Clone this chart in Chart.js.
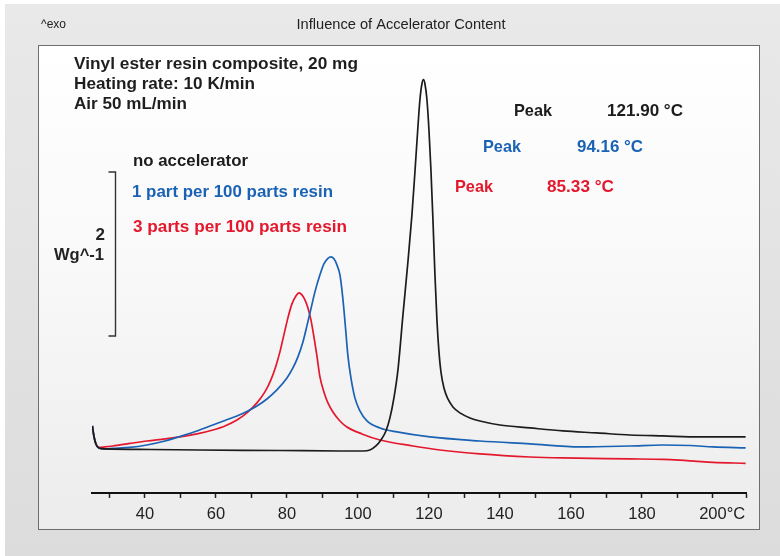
<!DOCTYPE html>
<html>
<head>
<meta charset="utf-8">
<script src="https://cdn.jsdelivr.net/npm/chart.js@4.4.1/dist/chart.umd.min.js"></script>
<style>
  html, body { margin: 0; padding: 0; background: #ffffff; }
  canvas { display: block; }
</style>
</head>
<body>
<canvas id="c" width="780" height="556"></canvas>
<script>
// ---- Data (temperature in °C, heat flow in W/g, exo up) ----
const noAccT = [25.21, 25.63, 26.20, 27.04, 28.73, 41.41, 55.49, 78.03, 94.93, 101.41, 103.38, 105.07, 106.48, 107.89, 109.01, 110.14, 111.27, 112.68, 114.08, 115.21, 116.06, 116.90, 117.46, 118.03, 118.45, 118.87, 119.44, 120.00, 120.56, 121.13, 121.69, 122.25, 122.82, 123.38, 124.23, 125.35, 126.76, 128.73, 131.55, 134.37, 140.00, 148.45, 157.75, 167.32, 176.62, 185.92, 196.34, 209.2];
const noAccW = [0.817, 0.695, 0.598, 0.549, 0.537, 0.530, 0.524, 0.518, 0.512, 0.512, 0.524, 0.573, 0.646, 0.756, 0.915, 1.159, 1.500, 2.171, 2.817, 3.390, 3.915, 4.463, 4.793, 4.988, 5.037, 4.988, 4.793, 4.427, 3.939, 3.329, 2.659, 2.110, 1.720, 1.476, 1.280, 1.146, 1.049, 0.976, 0.915, 0.878, 0.829, 0.793, 0.756, 0.732, 0.707, 0.695, 0.683, 0.683];

const onePartT = [25.21, 25.63, 26.20, 27.04, 28.73, 30.99, 35.77, 40.56, 45.63, 49.86, 54.65, 59.15, 62.54, 65.92, 68.73, 71.55, 74.37, 77.18, 80.00, 81.69, 83.10, 84.51, 85.63, 86.76, 87.89, 89.30, 90.42, 91.55, 92.39, 93.24, 94.08, 94.93, 95.49, 96.06, 96.62, 97.18, 98.03, 99.15, 100.56, 102.54, 106.20, 110.99, 120.28, 134.37, 148.45, 162.54, 176.62, 185.92, 193.52, 200.00, 209.2];
const onePartW = [0.817, 0.695, 0.598, 0.549, 0.537, 0.543, 0.555, 0.585, 0.634, 0.689, 0.756, 0.829, 0.884, 0.939, 0.994, 1.061, 1.146, 1.256, 1.402, 1.524, 1.659, 1.841, 2.037, 2.244, 2.451, 2.659, 2.793, 2.860, 2.878, 2.854, 2.780, 2.659, 2.476, 2.232, 1.951, 1.671, 1.402, 1.159, 1.000, 0.878, 0.793, 0.744, 0.683, 0.634, 0.598, 0.561, 0.573, 0.585, 0.579, 0.561, 0.549];

const threePartsT = [25.21, 25.63, 26.20, 27.04, 28.73, 30.99, 35.77, 40.56, 45.63, 49.86, 54.65, 59.15, 62.54, 65.92, 68.73, 71.55, 73.80, 75.49, 76.90, 78.03, 79.15, 80.28, 81.41, 82.54, 83.38, 84.23, 85.07, 85.92, 86.76, 87.61, 88.45, 89.30, 90.42, 91.55, 92.96, 94.93, 96.90, 101.13, 106.20, 115.49, 123.10, 134.37, 148.45, 157.75, 176.62, 185.92, 190.70, 195.49, 200.00, 209.2];
const threePartsW = [0.817, 0.695, 0.598, 0.555, 0.561, 0.573, 0.604, 0.634, 0.659, 0.683, 0.720, 0.768, 0.817, 0.890, 0.976, 1.098, 1.232, 1.378, 1.549, 1.720, 1.927, 2.134, 2.305, 2.402, 2.439, 2.415, 2.354, 2.256, 2.110, 1.902, 1.671, 1.415, 1.232, 1.098, 0.988, 0.878, 0.805, 0.720, 0.646, 0.573, 0.524, 0.476, 0.439, 0.427, 0.416, 0.410, 0.400, 0.386, 0.374, 0.362];

const seriesNames = ["no accelerator", "1 part per 100 parts resin", "3 parts per 100 parts resin"];
const peakLabels = ["121.90 °C", "94.16 °C", "85.33 °C"];
const infoLines = ["Vinyl ester resin composite, 20 mg", "Heating rate: 10 K/min", "Air 50 mL/min"];
const titleText = "Influence of Accelerator Content";
const xTickValues = [30, 40, 50, 60, 70, 80, 90, 100, 110, 120, 130, 140, 150, 160, 170, 180, 190, 200, 209.3];
const xTickLabels = ["", "40", "", "60", "", "80", "", "100", "", "120", "", "140", "", "160", "", "180", "", "    200°C", ""];

const COLORS = ["#1c1c1c", "#1a62b4", "#e4182d"];
const FONT = '"Liberation Sans", Arial, Helvetica, sans-serif';

function pts(xs, ys) { return xs.map((x, i) => ({ x: x, y: ys[i] })); }

function txt(ctx, s, x, y, color, size, bold, w, align) {
  ctx.save();
  ctx.font = (bold ? 'bold ' : '') + size + 'px ' + FONT;
  ctx.fillStyle = color;
  ctx.textBaseline = 'alphabetic';
  ctx.textAlign = 'left';
  const m = ctx.measureText(s).width;
  const sx = w ? w / m : 1;
  const ww = w || m;
  let left = x;
  if (align === 'center') left = x - ww / 2;
  else if (align === 'right') left = x - ww;
  ctx.translate(left, y);
  ctx.scale(sx, 1);
  ctx.fillText(s, 0, 0);
  ctx.restore();
}

const decor = {
  id: 'decor',
  beforeDraw(chart) {
    const ctx = chart.ctx;
    ctx.save();
    ctx.fillStyle = '#ffffff';
    ctx.fillRect(0, 0, 780, 556);
    let g = ctx.createLinearGradient(0, 4, 0, 556);
    g.addColorStop(0, '#e9e9e9');
    g.addColorStop(1, '#dcdcdc');
    ctx.fillStyle = g;
    ctx.fillRect(5, 4, 775, 552);
    g = ctx.createLinearGradient(0, 45, 0, 529);
    g.addColorStop(0, '#ffffff');
    g.addColorStop(0.5, '#f8f8f8');
    g.addColorStop(1, '#ececec');
    ctx.fillStyle = g;
    ctx.fillRect(38, 45, 721, 484);
    ctx.strokeStyle = '#6e6e6e';
    ctx.lineWidth = 1;
    ctx.strokeRect(38.5, 45.5, 721, 484);
    ctx.restore();
  },
  afterDraw(chart) {
    const ctx = chart.ctx;
    txt(ctx, '^exo', 41, 28, '#222', 12, false, 25);
    txt(ctx, titleText, 401, 29, '#222', 14.5, false, 209, 'center');
    const infoW = [284, 181, 113];
    infoLines.forEach((s, i) => txt(ctx, s, 74, 69 + i * 20, '#1e1e1e', 17, true, infoW[i]));
    txt(ctx, seriesNames[0], 133, 166, COLORS[0], 17, true, 115);
    txt(ctx, seriesNames[1], 132, 197, COLORS[1], 17, true, 201);
    txt(ctx, seriesNames[2], 133, 232, COLORS[2], 17, true, 214);
    txt(ctx, 'Peak', 514, 116, COLORS[0], 17, true, 38);
    txt(ctx, peakLabels[0], 607, 116, COLORS[0], 17, true, 76);
    txt(ctx, 'Peak', 483, 152, COLORS[1], 17, true, 38);
    txt(ctx, peakLabels[1], 577, 152, COLORS[1], 17, true, 66);
    txt(ctx, 'Peak', 455, 192, COLORS[2], 17, true, 38);
    txt(ctx, peakLabels[2], 547, 192, COLORS[2], 17, true, 67);
    // scale bar 2 W/g
    txt(ctx, '2', 105, 240, '#222', 17, true, null, 'right');
    txt(ctx, 'Wg^-1', 54, 260, '#222', 17, true, 50);
    ctx.save();
    ctx.strokeStyle = '#333';
    ctx.lineWidth = 1.4;
    ctx.beginPath();
    ctx.moveTo(108.5, 172); ctx.lineTo(115.5, 172); ctx.lineTo(115.5, 336); ctx.lineTo(108.5, 336);
    ctx.stroke();
    ctx.restore();
  }
};

const ds = (label, xs, ys, color) => ({
  label: label,
  data: pts(xs, ys),
  showLine: true,
  borderColor: color,
  backgroundColor: color,
  borderWidth: 1.7,
  pointRadius: 0,
  fill: false,
  cubicInterpolationMode: 'monotone'
});

new Chart(document.getElementById('c').getContext('2d'), {
  type: 'scatter',
  data: {
    datasets: [
      ds(seriesNames[0], noAccT, noAccW, COLORS[0]),
      ds(seriesNames[1], onePartT, onePartW, COLORS[1]),
      ds(seriesNames[2], threePartsT, threePartsW, COLORS[2])
    ]
  },
  options: {
    responsive: false,
    animation: false,
    devicePixelRatio: 1,
    layout: { padding: { left: 92, right: 34, top: 45, bottom: 0 } },
    plugins: { legend: { display: false }, tooltip: { enabled: false }, title: { display: false } },
    scales: {
      x: {
        type: 'linear',
        min: 25.1,
        max: 209.3,
        afterBuildTicks: (s) => { s.ticks = xTickValues.map(v => ({ value: v })); },
        afterFit: (s) => { s.height = 63; },
        ticks: {
          autoSkip: false,
          maxRotation: 0,
          padding: 7,
          color: '#222',
          font: { size: 16.5, family: FONT },
          callback: (v) => {
            const i = xTickValues.findIndex(t => Math.abs(t - v) < 0.01);
            return i >= 0 ? xTickLabels[i] : '';
          }
        },
        grid: { drawOnChartArea: false, drawTicks: true, tickLength: 5, tickColor: '#222', tickWidth: 1.5 },
        border: { display: true, color: '#111', width: 2 }
      },
      y: { display: false, min: 0, max: 5.46 }
    }
  },
  plugins: [decor]
});
</script>
</body>
</html>
